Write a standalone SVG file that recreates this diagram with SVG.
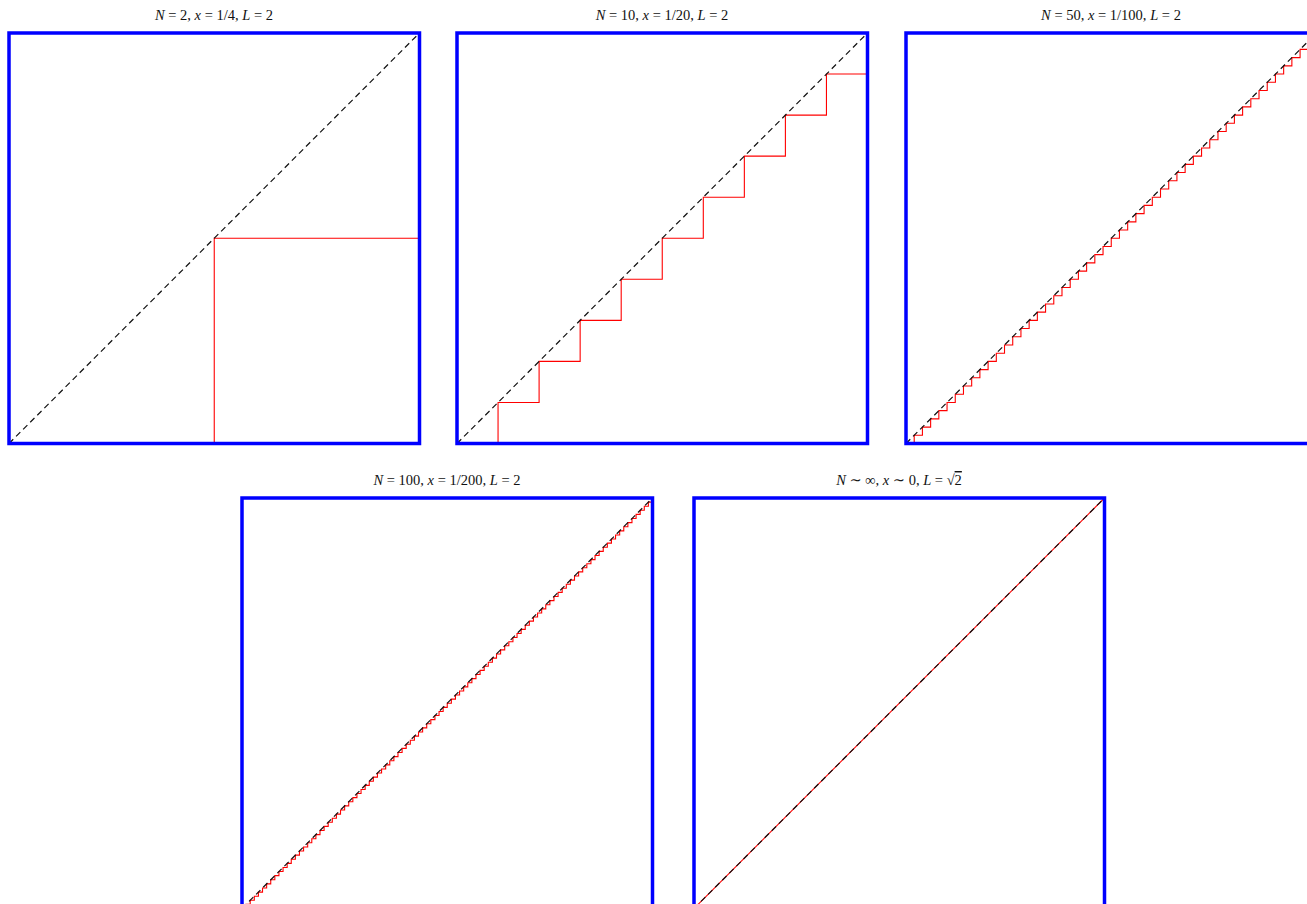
<svg xmlns="http://www.w3.org/2000/svg" width="1307" height="904" viewBox="0 0 1307 904">
<style>
.frame{fill:none;stroke:#0000ff;stroke-width:3.5}
.diag{fill:none;stroke:#111;stroke-width:1.2;stroke-dasharray:6 4}
.stair{fill:none;stroke:#ff0000;stroke-width:1.1}
.title{font-family:"Liberation Serif","DejaVu Serif",serif;font-size:14.5px;fill:#111;text-anchor:middle}
.v{font-style:italic}
</style>
<rect width="1307" height="904" fill="#fff"/>
<g id="panel1">
<text class="title" x="214" y="20"><tspan class="v">N</tspan> = 2, <tspan class="v">x</tspan> = 1/4, <tspan class="v">L</tspan> = 2</text>
<path class="stair" d="M214.25,443.5V238.25H419.5"/>
<path class="diag" d="M9,443.5L419.5,33"/>
<rect class="frame" x="9" y="33" width="410.5" height="410.5"/>
</g>
<g id="panel2">
<text class="title" x="662" y="20"><tspan class="v">N</tspan> = 10, <tspan class="v">x</tspan> = 1/20, <tspan class="v">L</tspan> = 2</text>
<path class="stair" d="M498.05,443.5
v-41.05h41.05 v-41.05h41.05 v-41.05h41.05
v-41.05h41.05 v-41.05h41.05 v-41.05h41.05
v-41.05h41.05 v-41.05h41.05 v-41.05h41.05"/>
<path class="diag" d="M457,443.5L867.5,33"/>
<rect class="frame" x="457" y="33" width="410.5" height="410.5"/>
</g>
<g id="panel3">
<text class="title" x="1111" y="20"><tspan class="v">N</tspan> = 50, <tspan class="v">x</tspan> = 1/100, <tspan class="v">L</tspan> = 2</text>
<path class="stair" d="M914.21,443.5
v-8.21h8.21 v-8.21h8.21 v-8.21h8.21 v-8.21h8.21 v-8.21h8.21 v-8.21h8.21 v-8.21h8.21 v-8.21h8.21 v-8.21h8.21 v-8.21h8.21
v-8.21h8.21 v-8.21h8.21 v-8.21h8.21 v-8.21h8.21 v-8.21h8.21 v-8.21h8.21 v-8.21h8.21 v-8.21h8.21 v-8.21h8.21 v-8.21h8.21
v-8.21h8.21 v-8.21h8.21 v-8.21h8.21 v-8.21h8.21 v-8.21h8.21 v-8.21h8.21 v-8.21h8.21 v-8.21h8.21 v-8.21h8.21 v-8.21h8.21
v-8.21h8.21 v-8.21h8.21 v-8.21h8.21 v-8.21h8.21 v-8.21h8.21 v-8.21h8.21 v-8.21h8.21 v-8.21h8.21 v-8.21h8.21 v-8.21h8.21
v-8.21h8.21 v-8.21h8.21 v-8.21h8.21 v-8.21h8.21 v-8.21h8.21 v-8.21h8.21 v-8.21h8.21 v-8.21h8.21 v-8.21h8.21"/>
<path class="diag" d="M906,443.5L1316.5,33"/>
<rect class="frame" x="906" y="33" width="410.5" height="410.5"/>
</g>
<g id="panel4">
<text class="title" x="447" y="485"><tspan class="v">N</tspan> = 100, <tspan class="v">x</tspan> = 1/200, <tspan class="v">L</tspan> = 2</text>
<path class="stair" d="M246.105,908.5
v-4.105h4.105 v-4.105h4.105 v-4.105h4.105 v-4.105h4.105 v-4.105h4.105 v-4.105h4.105 v-4.105h4.105 v-4.105h4.105 v-4.105h4.105 v-4.105h4.105
v-4.105h4.105 v-4.105h4.105 v-4.105h4.105 v-4.105h4.105 v-4.105h4.105 v-4.105h4.105 v-4.105h4.105 v-4.105h4.105 v-4.105h4.105 v-4.105h4.105
v-4.105h4.105 v-4.105h4.105 v-4.105h4.105 v-4.105h4.105 v-4.105h4.105 v-4.105h4.105 v-4.105h4.105 v-4.105h4.105 v-4.105h4.105 v-4.105h4.105
v-4.105h4.105 v-4.105h4.105 v-4.105h4.105 v-4.105h4.105 v-4.105h4.105 v-4.105h4.105 v-4.105h4.105 v-4.105h4.105 v-4.105h4.105 v-4.105h4.105
v-4.105h4.105 v-4.105h4.105 v-4.105h4.105 v-4.105h4.105 v-4.105h4.105 v-4.105h4.105 v-4.105h4.105 v-4.105h4.105 v-4.105h4.105 v-4.105h4.105
v-4.105h4.105 v-4.105h4.105 v-4.105h4.105 v-4.105h4.105 v-4.105h4.105 v-4.105h4.105 v-4.105h4.105 v-4.105h4.105 v-4.105h4.105 v-4.105h4.105
v-4.105h4.105 v-4.105h4.105 v-4.105h4.105 v-4.105h4.105 v-4.105h4.105 v-4.105h4.105 v-4.105h4.105 v-4.105h4.105 v-4.105h4.105 v-4.105h4.105
v-4.105h4.105 v-4.105h4.105 v-4.105h4.105 v-4.105h4.105 v-4.105h4.105 v-4.105h4.105 v-4.105h4.105 v-4.105h4.105 v-4.105h4.105 v-4.105h4.105
v-4.105h4.105 v-4.105h4.105 v-4.105h4.105 v-4.105h4.105 v-4.105h4.105 v-4.105h4.105 v-4.105h4.105 v-4.105h4.105 v-4.105h4.105 v-4.105h4.105
v-4.105h4.105 v-4.105h4.105 v-4.105h4.105 v-4.105h4.105 v-4.105h4.105 v-4.105h4.105 v-4.105h4.105 v-4.105h4.105 v-4.105h4.105"/>
<path class="diag" d="M242,908.5L652.5,498"/>
<rect class="frame" x="242" y="498" width="410.5" height="410.5"/>
</g>
<g id="panel5">
<text class="title" x="899" y="485"><tspan class="v">N</tspan> ∼ ∞, <tspan class="v">x</tspan> ∼ 0, <tspan class="v">L</tspan> = √<tspan text-decoration="overline">2</tspan></text>
<path class="stair" d="M694,908.5L1104.5,498"/>
<path class="diag" d="M694,908.5L1104.5,498"/>
<rect class="frame" x="694" y="498" width="410.5" height="410.5"/>
</g>
<g id="connectors"/>
</svg>
